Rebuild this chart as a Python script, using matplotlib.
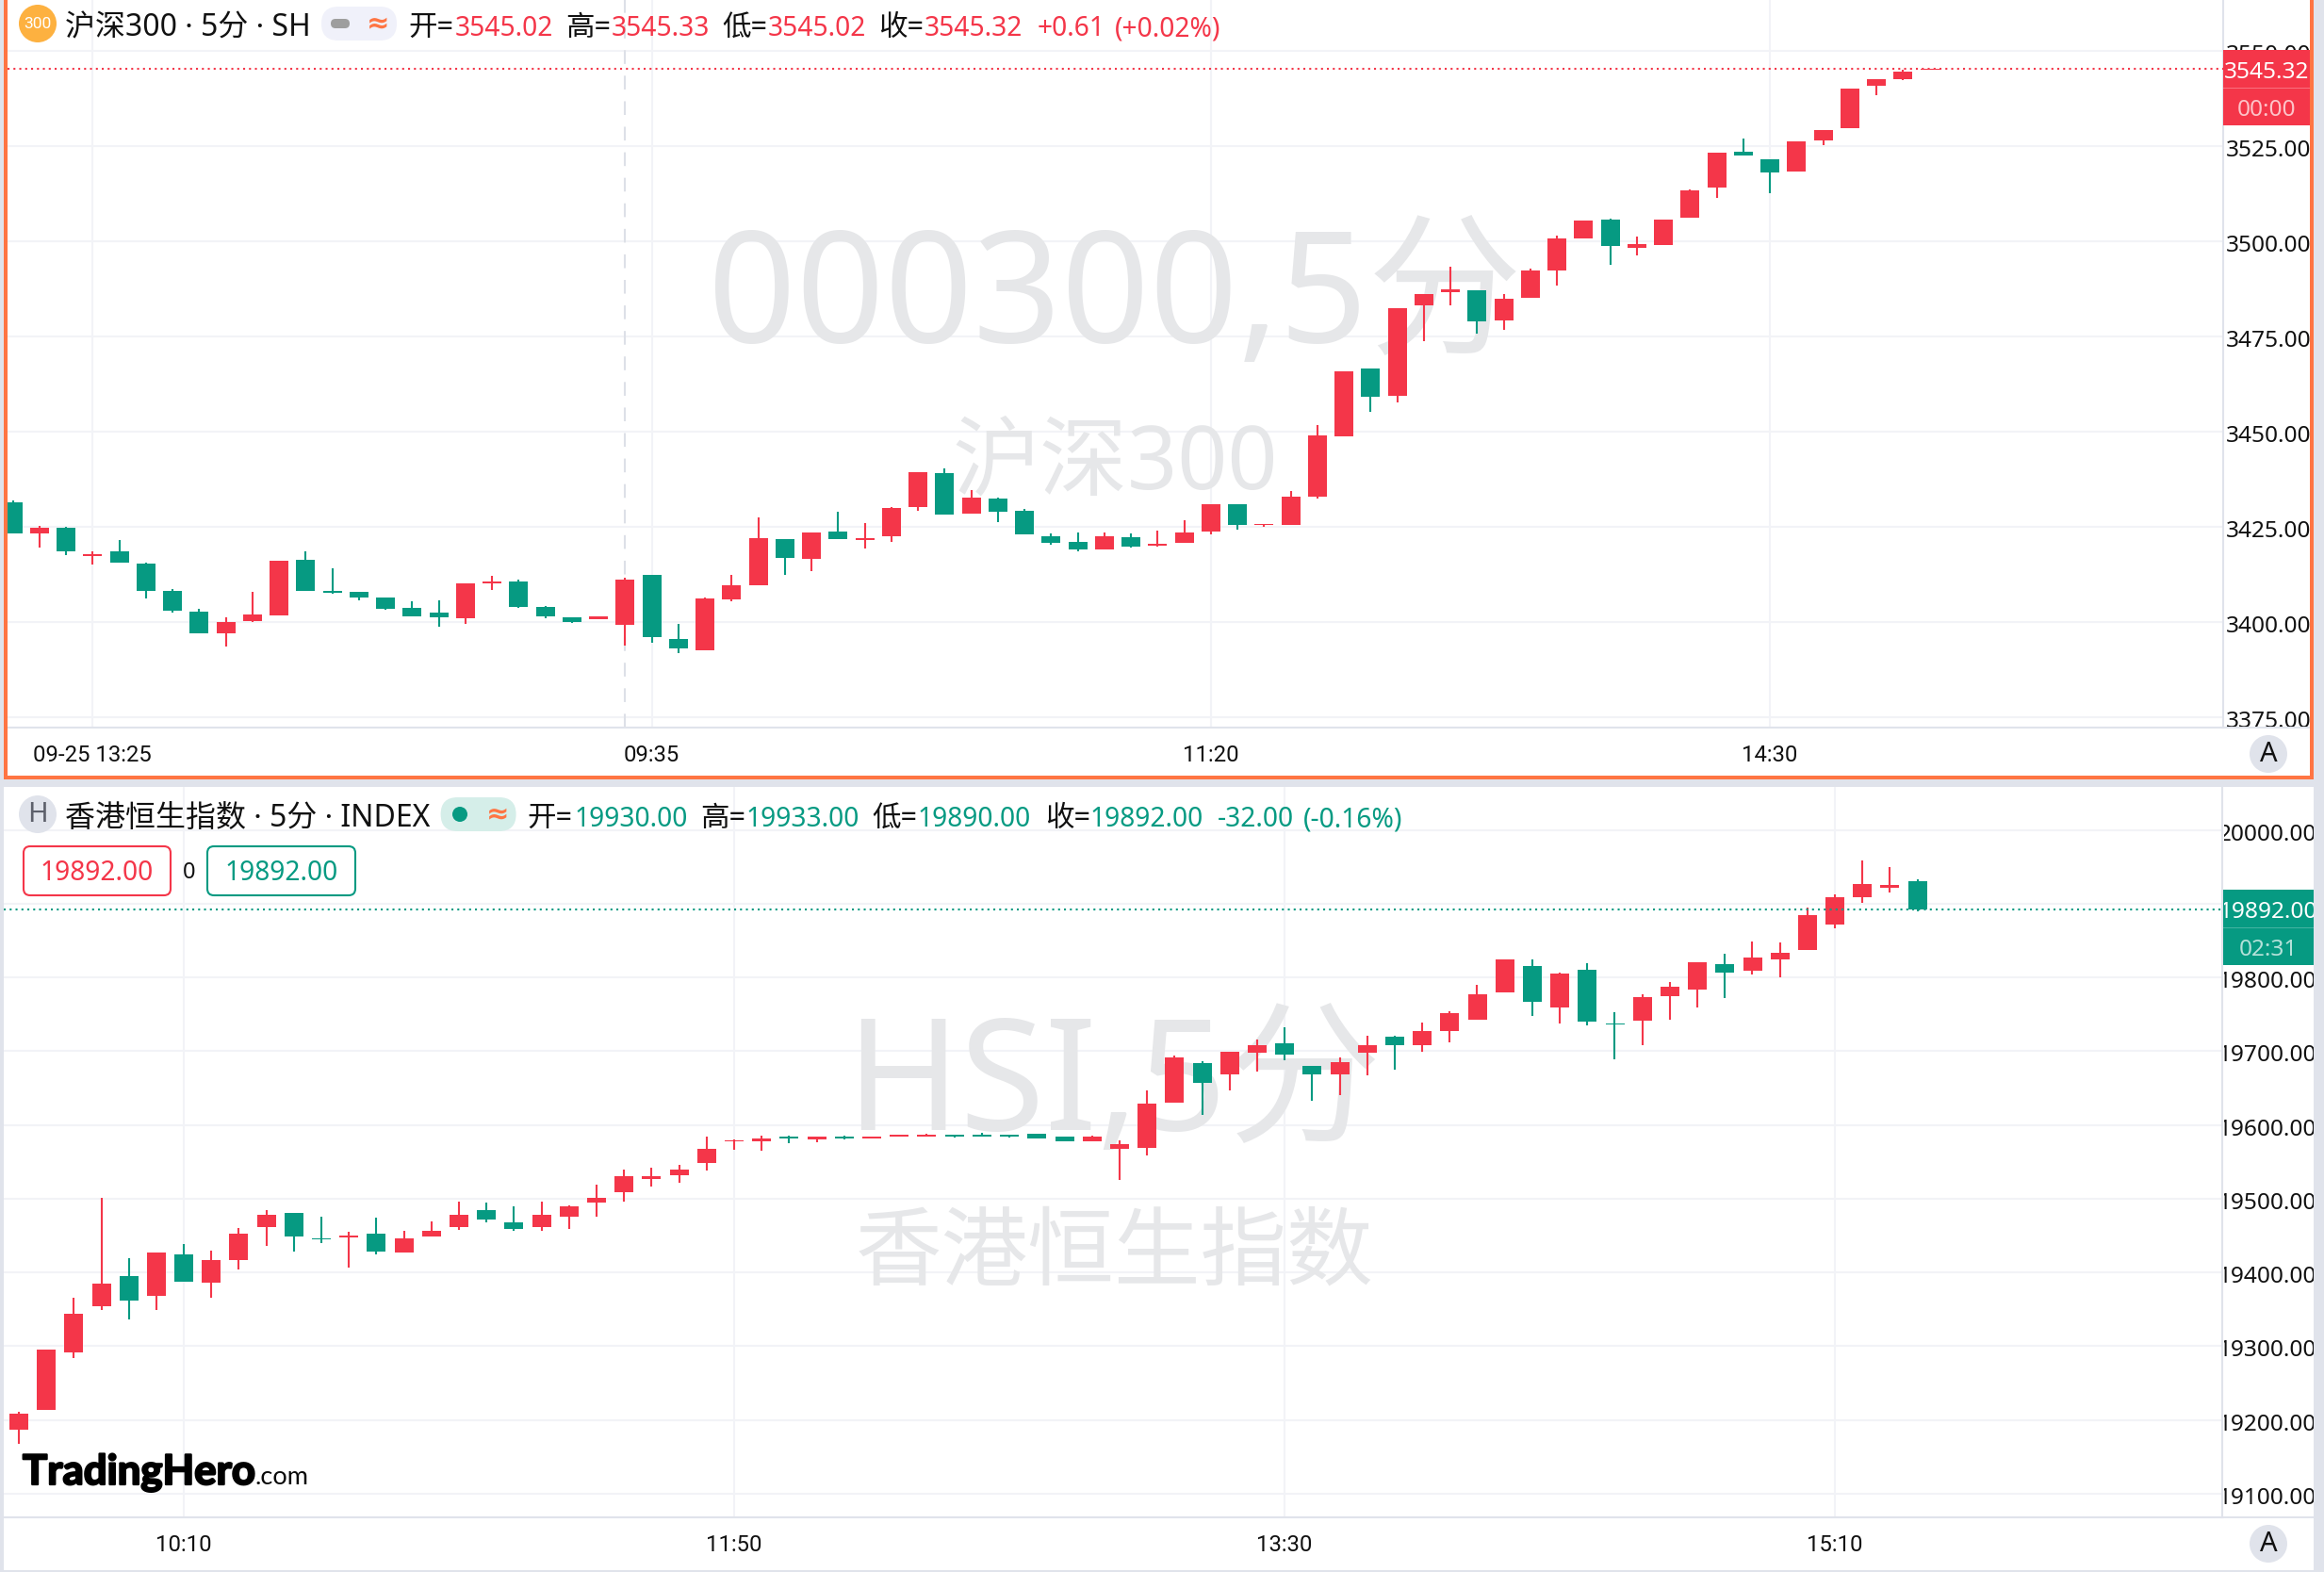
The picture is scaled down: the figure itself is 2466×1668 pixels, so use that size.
import matplotlib
matplotlib.use("Agg")
import matplotlib.pyplot as plt
import matplotlib.patheffects as pe
from matplotlib.patches import Rectangle, Circle, FancyBboxPatch
from matplotlib.transforms import TransformedBbox, Bbox, ScaledTranslation

W, H = 2466, 1668
plt.rcParams['font.family'] = ['Noto Sans', 'Noto Sans CJK SC', 'DejaVu Sans']

# ---------- data: CSI 300, 5 minute ----------
csi_open = [3431.45,3423.20,3424.77,3417.43,3418.61,3415.33,3408.13,3402.75,3396.99,3400.26,
            3401.83,3416.38,3408.13,3407.99,3406.42,3403.67,3402.49,3400.92,3410.22,3410.62,
            3403.93,3401.31,3400.66,3399.34,3412.45,3395.54,3392.66,3406.03,3409.57,3421.76,
            3416.51,3423.85,3421.62,3422.54,3430.14,3439.19,3428.44,3432.50,3429.23,3422.54,
            3421.10,3419.00,3422.41,3420.05,3420.71,3423.85,3430.93,3425.43,3425.43,3433.03,
            3448.89,3466.58,3459.37,3483.09,3486.76,3487.15,3479.16,3485.06,3492.40,3500.79,
            3505.77,3498.30,3499.08,3506.29,3514.15,3523.59,3521.62,3518.35,3526.60,3529.75,
            3540.76,3542.59,3545.02]
csi_high = [3431.98,3425.29,3425.03,3418.48,3421.62,3415.60,3408.65,3403.54,3401.18,3407.99,
            3416.12,3418.61,3414.15,3407.99,3406.42,3405.50,3405.77,3410.22,3412.19,3411.14,
            3404.19,3401.31,3401.44,3411.66,3412.45,3399.48,3406.42,3412.45,3427.52,3421.76,
            3423.59,3428.96,3426.08,3430.27,3439.45,3440.37,3434.73,3432.77,3429.75,3423.33,
            3423.59,3423.59,3423.33,3423.98,3426.74,3430.93,3430.93,3425.82,3434.47,3451.77,
            3465.92,3466.58,3482.44,3486.24,3493.31,3487.15,3486.11,3492.92,3501.57,3505.50,
            3506.03,3501.31,3505.77,3513.63,3523.33,3527.00,3521.62,3526.34,3529.23,3540.10,
            3542.59,3545.08,3545.33]
csi_low = [3423.20,3419.53,3417.69,3415.07,3415.60,3406.29,3402.62,3397.12,3393.58,3400.13,
           3401.83,3408.26,3407.47,3405.64,3403.15,3401.44,3398.69,3399.61,3408.39,3403.80,
           3400.92,3399.87,3400.66,3393.84,3394.50,3391.74,3392.66,3405.50,3409.57,3412.45,
           3413.37,3421.76,3419.40,3421.10,3429.23,3428.18,3428.44,3426.21,3422.94,3420.31,
           3418.61,3419.00,3419.53,3419.79,3420.71,3423.07,3424.25,3425.03,3425.43,3432.50,
           3448.89,3455.18,3457.67,3473.79,3483.09,3475.75,3476.80,3485.06,3488.47,3500.79,
           3493.84,3496.33,3499.08,3506.29,3511.40,3522.67,3512.71,3518.35,3525.29,3529.75,
           3538.40,3542.33,3545.02]
csi_close = [3423.20,3424.77,3418.48,3417.96,3415.60,3408.26,3402.88,3397.12,3400.00,3401.97,
             3416.12,3408.26,3407.73,3406.55,3403.54,3401.44,3401.18,3410.22,3410.62,3404.06,
             3401.44,3400.13,3401.44,3411.14,3395.94,3393.18,3406.16,3409.70,3422.02,3416.78,
             3423.59,3421.76,3422.02,3430.01,3439.45,3428.18,3432.77,3429.10,3422.94,3420.71,
             3419.00,3422.54,3419.92,3420.45,3423.59,3430.93,3425.43,3425.82,3432.90,3449.02,
             3465.92,3459.11,3482.44,3486.24,3487.42,3478.90,3484.93,3492.40,3500.79,3505.50,
             3498.69,3499.34,3505.77,3513.37,3523.33,3522.67,3518.22,3526.34,3529.23,3540.10,
             3542.59,3544.56,3545.32]

# ---------- data: Hang Seng, 5 minute ----------
hsi_open = [19187.3,19213.2,19291.7,19354.4,19394.7,19368.1,19424.0,19386.5,19416.5,19461.5,
            19481.3,19446.5,19447.2,19452.0,19426.7,19448.6,19461.5,19484.0,19468.3,19461.5,
            19475.9,19494.9,19508.6,19526.3,19531.8,19548.1,19577.5,19577.5,19584.3,19580.2,
            19583.6,19581.6,19584.3,19584.3,19586.3,19586.3,19586.3,19588.4,19583.6,19577.5,
            19567.3,19568.6,19630.0,19683.9,19668.9,19698.2,19711.2,19680.5,19668.2,19697.5,
            19720.0,19708.4,19726.8,19743.2,19779.4,19815.5,19758.9,19810.7,19737.8,19741.2,
            19775.3,19784.2,19817.6,19808.7,19825.1,19836.7,19871.5,19908.3,19921.9,19930.0]
hsi_high = [19210.5,19295.1,19365.3,19501.8,19419.9,19427.4,19439.0,19429.5,19460.8,19484.0,
            19481.3,19475.9,19455.4,19473.8,19456.7,19469.7,19496.3,19494.9,19490.2,19496.3,
            19491.5,19519.5,19540.0,19542.7,19546.1,19584.3,19580.9,19585.7,19585.7,19583.6,
            19585.7,19583.6,19586.3,19587.7,19586.3,19589.1,19586.3,19588.4,19583.6,19585.0,
            19578.8,19647.0,19694.1,19686.6,19699.6,19715.9,19733.0,19680.5,19692.1,19721.4,
            19721.4,19739.1,19754.1,19790.3,19824.4,19824.4,19806.7,19819.6,19752.8,19777.3,
            19793.7,19821.0,19831.9,19848.9,19847.6,19895.3,19912.4,19958.8,19949.9,19933.0]
hsi_low = [19168.2,19213.2,19283.5,19349.6,19336.0,19349.6,19387.2,19365.3,19403.5,19436.3,
           19428.8,19440.4,19406.3,19424.0,19426.7,19448.6,19458.1,19468.3,19456.7,19456.7,
           19459.5,19475.9,19496.3,19516.8,19522.2,19538.6,19566.6,19565.2,19574.7,19576.8,
           19580.2,19581.6,19584.3,19584.3,19582.9,19584.3,19582.9,19582.2,19577.5,19577.5,
           19525.0,19559.1,19630.0,19613.6,19646.4,19673.0,19687.3,19633.4,19640.9,19667.5,
           19675.0,19699.6,19712.5,19743.2,19779.4,19748.0,19737.8,19735.0,19689.3,19708.4,
           19742.5,19759.6,19772.6,19803.9,19800.5,19836.7,19866.7,19900.8,19915.1,19890.0]
hsi_close = [19209.1,19295.1,19343.5,19384.4,19361.9,19427.4,19387.2,19417.2,19452.0,19478.6,
             19448.6,19444.5,19450.6,19428.1,19446.5,19456.7,19478.6,19471.7,19458.8,19478.6,
             19490.2,19501.8,19531.1,19531.1,19540.0,19567.9,19579.5,19582.2,19581.6,19583.6,
             19581.6,19583.6,19586.3,19586.3,19584.3,19584.3,19584.3,19582.2,19577.5,19583.6,
             19573.4,19629.3,19692.1,19656.6,19699.6,19708.4,19694.8,19668.9,19685.2,19708.4,
             19707.7,19727.5,19752.1,19777.3,19824.4,19766.4,19805.3,19739.8,19735.7,19773.2,
             19787.6,19821.0,19806.0,19827.1,19833.3,19884.4,19909.0,19926.7,19925.3,19892.0]

csi_ticks = [3375, 3400, 3425, 3450, 3475, 3500, 3525, 3550]
hsi_ticks = [19100, 19200, 19300, 19400, 19500, 19600, 19700, 19800, 19900, 20000]
csi_time_idx = [3, 24, 45, 66]
csi_time_lab = ['09-25 13:25', '09:35', '11:20', '14:30']
hsi_time_idx = [6, 26, 46, 66]
hsi_time_lab = ['10:10', '11:50', '13:30', '15:10']
csi_last = 3545.32
hsi_last = 19892.00
csi_cross_idx = 23

RED = '#f43649'
GREEN = '#069a82'
ORANGE = '#ff7543'
BAND = '#e0e3eb'
GRID = '#f2f3f7'
MARK = '#e6e7e9'
BLACK = '#111111'
FONT = ['Noto Sans', 'Noto Sans CJK SC', 'DejaVu Sans']

fig = plt.figure(figsize=(W / 100, H / 100), dpi=100, facecolor=BAND)


def axes_px(x0, y0, x1, y1, z):
    a = fig.add_axes([x0 / W, 1 - y1 / H, (x1 - x0) / W, (y1 - y0) / H], zorder=z)
    a.patch.set_alpha(0)
    return a


bg = axes_px(0, 0, W, H, 0)
bg.set_xlim(0, W); bg.set_ylim(H, 0); bg.axis('off')
bg.add_patch(Rectangle((8, 0), 2443, 823, fc='white', ec='none'))
bg.add_patch(Rectangle((4, 835), 2451, 831, fc='white', ec='none'))

ov = axes_px(0, 0, W, H, 3)
ov.set_xlim(0, W); ov.set_ylim(H, 0); ov.axis('off')


def panel(box, x0px, dx, o, h, l, c, ylim, yticks, tidx, tlab, last, lastcol, marks):
    ax = axes_px(*box, 1)
    x = list(range(len(o)))
    ax.set_xlim((box[0] - x0px) / dx, (box[2] - x0px) / dx)
    ax.set_ylim(*ylim)
    cols = [RED if ci >= oi else GREEN for oi, ci in zip(o, c)]
    ax.vlines(x, l, h, colors=cols, linewidth=1.5, zorder=3)
    ax.bar(x, [abs(ci - oi) for oi, ci in zip(o, c)], bottom=[min(oi, ci) for oi, ci in zip(o, c)],
           width=20 / dx, color=cols, linewidth=0, zorder=4)
    ax.axhline(last, color=lastcol, linewidth=1.5, linestyle=(0, (1, 2)), zorder=5)
    ax.set_axisbelow(True)
    ax.grid(True, color=GRID, linewidth=1.5)
    ax.set_xticks(tidx)
    ax.set_xticklabels(tlab, family=['Roboto', 'DejaVu Sans'], fontsize=17.2, color=BLACK, va='center')
    ax.set_yticks(yticks)
    ax.yaxis.tick_right()
    ax.set_yticklabels([f'{v:.2f}' for v in yticks], fontsize=17.6, color=BLACK, ha='center')
    ax.tick_params(axis='x', length=0, pad=21)
    ax.tick_params(axis='y', length=0, pad=34.5)
    for s in ('top', 'left'):
        ax.spines[s].set_visible(False)
    for s in ('bottom', 'right'):
        ax.spines[s].set_color(BAND)
        ax.spines[s].set_linewidth(1.5)
    clip = TransformedBbox(Bbox([[2360, 0], [2455, H]]), ov.transData)
    shift = ScaledTranslation(0, -2 / 100, fig.dpi_scale_trans)
    for t in ax.get_yticklabels():
        t.set_clip_box(clip)
        t.set_clip_on(True)
        t.set_transform(t.get_transform() + shift)
    for txt, mx, my, fs in marks:
        ax.text(mx, my, txt, transform=ov.transData, fontsize=fs, color=MARK, ha='center',
                va='center', zorder=1, clip_on=False)
    return ax


ax1 = panel((8, 0, 2359, 772), 13.55, 28.25, csi_open, csi_high, csi_low, csi_close,
            (3372.3, 3563.4), csi_ticks, csi_time_idx, csi_time_lab, csi_last, RED,
            [('000300,5分', 1183, 320, 118), ('沪深300', 1183, 494, 67)])
ax1.axvline(csi_cross_idx, color='#dde0e7', linewidth=1.5, linestyle=(0, (7, 6)), zorder=2)
ax2 = panel((4, 835, 2358, 1610), 19.9, 29.2, hsi_open, hsi_high, hsi_low, hsi_close,
            (19067.9, 20058.4), hsi_ticks, hsi_time_idx, hsi_time_lab, hsi_last, GREEN,
            [('HSI,5分', 1181, 1156, 118), ('香港恒生指数', 1182, 1333, 66)])

# frame of the active top panel
for r in [(4, 0, 4, 827), (2451, 0, 4, 827), (4, 823, 2451, 4)]:
    ov.add_patch(Rectangle((r[0], r[1]), r[2], r[3], fc=ORANGE, ec='none', zorder=6))
ov.add_patch(Rectangle((2359, 771), 92, 2, fc=BAND, ec='none'))
ov.add_patch(Rectangle((2358, 1609), 97, 2, fc=BAND, ec='none'))


def label(x, y, s, col=BLACK, fs=20, **kw):
    kw.setdefault('va', 'baseline')
    kw.setdefault('ha', 'left')
    kw.setdefault('family', FONT)
    return ov.text(x, y, s, color=col, fontsize=fs, zorder=8, **kw)


def pill(x0, y0, x1, y1, fc, ec='none', lw=0, r=None):
    r = (y1 - y0) / 2 if r is None else r
    ov.add_patch(FancyBboxPatch((x0 + r, y0 + r), x1 - x0 - 2 * r, y1 - y0 - 2 * r,
                                boxstyle=f'round,pad={r},rounding_size={r}', fc=fc, ec=ec, lw=lw, zorder=7))


# ---- top header ----
ov.add_patch(Circle((40, 25), 20, fc='#fdb140', ec='none', zorder=7))
label(40, 25.5, '300', 'white', 12.5, ha='center', va='center', family=['Roboto', 'DejaVu Sans'])
label(69, 38, '沪深300 · 5分 · SH', BLACK, 23)
pill(341, 7, 421, 43, '#f0f1fa')
pill(351, 20, 371, 30, '#9e9e9e')
label(401, 25, '≈', ORANGE, 21, ha='center', va='center', weight='bold', family=['DejaVu Sans'])
for x, s, col, fs in [(433.6, '开=', BLACK, 22), (483, '3545.02', RED, 20.3), (600, '高=', BLACK, 22), (649, '3545.33', RED, 20.3),
                      (766, '低=', BLACK, 22), (815, '3545.02', RED, 20.3), (932, '收=', BLACK, 22), (981, '3545.32', RED, 20.3),
                      (1100.7, '+0.61', RED, 20.3), (1183, '(+0.02%)', RED, 20.3)]:
    label(x, 38, s, col, fs)

# ---- bottom header ----
ov.add_patch(Circle((40, 864), 20, fc=BAND, ec='none', zorder=7))
label(40, 864, 'H', '#5d606b', 21, ha='center', va='center')
label(69, 877, '香港恒生指数 · 5分 · INDEX', BLACK, 23)
pill(467.6, 846, 547.6, 882, '#d5eee9')
ov.add_patch(Circle((488, 864), 8, fc=GREEN, ec='none', zorder=8))
label(527.7, 864, '≈', ORANGE, 21, ha='center', va='center', weight='bold', family=['DejaVu Sans'])
for x, s, col, fs in [(559.6, '开=', BLACK, 22), (610, '19930.00', GREEN, 20.3), (743, '高=', BLACK, 22), (792, '19933.00', GREEN, 20.3),
                      (925.5, '低=', BLACK, 22), (974, '19890.00', GREEN, 20.3), (1108.6, '收=', BLACK, 22), (1156.7, '19892.00', GREEN, 20.3),
                      (1291.6, '-32.00', GREEN, 20.3), (1382.6, '(-0.16%)', GREEN, 20.3)]:
    label(x, 877, s, col, fs)

# ---- bid / ask boxes ----
pill(25, 898, 181, 950, 'white', RED, 1.5, r=7)
pill(220, 898, 377, 950, 'white', GREEN, 1.5, r=7)
label(103, 926, '19892.00', RED, 20.3, ha='center', va='center')
label(200.7, 926, '0', BLACK, 17, ha='center', va='center')
label(298.5, 926, '19892.00', GREEN, 20.3, ha='center', va='center')

# ---- last price tags ----
ov.add_patch(Rectangle((2359, 53), 92, 80, fc=RED, ec='none', zorder=7))
ov.add_patch(Rectangle((2359, 93), 92, 1, fc='#f8707e', ec='none', zorder=7))
label(2405, 77, '3545.32', 'white', 17.6, ha='center', va='center')
label(2405, 117, '00:00', '#fdc3c8', 17.6, ha='center', va='center')
ov.add_patch(Rectangle((2359, 944), 96, 80, fc=GREEN, ec='none', zorder=7))
ov.add_patch(Rectangle((2359, 984), 96, 1, fc='#44b3a1', ec='none', zorder=7))
t = label(2407, 968, '19892.00', 'white', 17.6, ha='center', va='center')
t.set_clip_box(TransformedBbox(Bbox([[2360, 900], [2455, 1100]]), ov.transData))
t.set_clip_on(True)
label(2407, 1008, '02:31', '#b4e1d9', 17.6, ha='center', va='center')

# ---- auto scale buttons ----
for cy in (800, 1638):
    ov.add_patch(Circle((2407, cy), 20, fc=BAND, ec='none', zorder=7))
    label(2407, cy, 'A', BLACK, 21, ha='center', va='center')

# ---- logo ----
thick = [pe.withStroke(linewidth=1.6, foreground='black')]
label(24, 1575, 'TradingHero', 'black', 31.5, weight='bold', family=['Lato', 'DejaVu Sans'], path_effects=thick)
label(270, 1575, '.com', '#0a0a0a', 19.5, family=['Lato', 'DejaVu Sans'])

fig.savefig('out.png', dpi=100, facecolor=fig.get_facecolor())
